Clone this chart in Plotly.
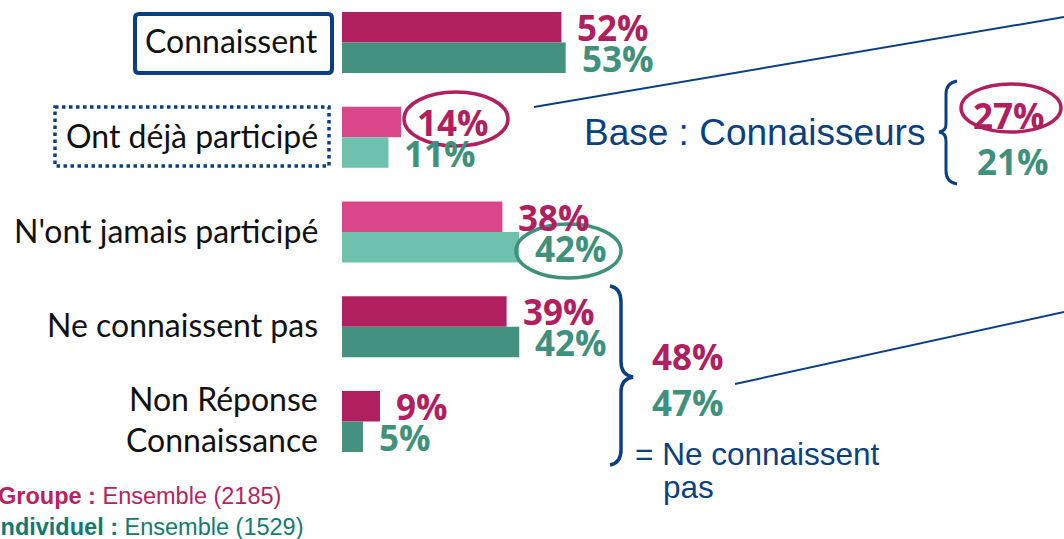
import plotly.graph_objects as go

# ---------------- data ----------------
categories = ["Connaissent", "Ont déjà participé", "N'ont jamais participé",
              "Ne connaissent pas", "Non Réponse Connaissance"]
groupe = [52, 14, 38, 39, 9]
individuel = [53, 11, 42, 42, 5]
groupe_labels = ["52%", "14%", "38%", "39%", "9%"]
individuel_labels = ["53%", "11%", "42%", "42%", "5%"]
base_connaisseurs = ["27%", "21%"]
ne_connaissent_total = ["48%", "47%"]
legend_groupe = ("Groupe :", "Ensemble (2185)")
legend_indiv = ("Individuel :", "Ensemble (1529)")

# ---------------- styles ----------------
W, H = 1064, 539
PINK_D, PINK_L = "#B0205E", "#DB4589"
GREEN_D, GREEN_L = "#42927F", "#6EC1AD"
NAVY = "#0B4080"
TXT_PINK, TXT_GREEN = "#B0205E", "#3F917C"
shade = ["dark", "light", "light", "dark", "dark"]
groupe_colors = [PINK_D if s == "dark" else PINK_L for s in shade]
indiv_colors = [GREEN_D if s == "dark" else GREEN_L for s in shade]

PX_PER_UNIT = 4.22
X0 = 342
ROW0, ROW_STEP = 42.5, 94.75
VAL_SIZE = 35


def px(x):
    return x / W


def py(y):
    return 1 - y / H


def path(points_cmds):
    out = []
    for cmd, pts in points_cmds:
        coords = " ".join(f"{px(x):.5f},{py(y):.5f}" for x, y in pts)
        out.append(f"{cmd} {coords}")
    return " ".join(out)


fig = go.Figure()
fig.add_trace(go.Bar(y=categories, x=groupe, orientation="h", name="Groupe",
                     marker=dict(color=groupe_colors, line=dict(width=0))))
fig.add_trace(go.Bar(y=categories, x=individuel, orientation="h", name="Individuel",
                     marker=dict(color=indiv_colors, line=dict(width=0))))

VAL_FONT = "Open Sans"
ann = []
for c, v, t in zip(categories, groupe, groupe_labels):
    ann.append(dict(x=v, y=c, xref="x", yref="y", text=t, showarrow=False,
                    xanchor="left", yanchor="middle", xshift=14, yshift=15,
                    font=dict(family=VAL_FONT, size=VAL_SIZE, color=TXT_PINK, weight=700)))
for c, v, t in zip(categories, individuel, individuel_labels):
    ann.append(dict(x=v, y=c, xref="x", yref="y", text=t, showarrow=False,
                    xanchor="left", yanchor="middle", xshift=14, yshift=-16,
                    font=dict(family=VAL_FONT, size=VAL_SIZE, color=TXT_GREEN, weight=700)))

# category labels
LAB_FONT = dict(family="Lato", size=32, color="#111111")
for c in categories[:4]:
    ann.append(dict(x=px(320), y=c, xref="paper", yref="y", text=c, showarrow=False,
                    xanchor="right", yanchor="middle", yshift=2, font=LAB_FONT))
ann.append(dict(x=px(320), y=categories[4], xref="paper", yref="y", text="Non Réponse",
                showarrow=False, xanchor="right", yanchor="middle", yshift=23, font=LAB_FONT))
ann.append(dict(x=px(320), y=categories[4], xref="paper", yref="y", text="Connaissance",
                showarrow=False, xanchor="right", yanchor="middle", yshift=-18, font=LAB_FONT))

# Base : Connaisseurs
ann.append(dict(x=px(582), y=py(133), xref="paper", yref="paper", text="Base : Connaisseurs",
                showarrow=False, xanchor="left", yanchor="middle",
                font=dict(family="Liberation Sans", size=37, color=NAVY)))
ann.append(dict(x=px(1009), y=py(116), xref="paper", yref="paper", text=base_connaisseurs[0],
                showarrow=False, xanchor="center", yanchor="middle",
                font=dict(family=VAL_FONT, size=VAL_SIZE, color=TXT_PINK, weight=700)))
ann.append(dict(x=px(1013), y=py(161), xref="paper", yref="paper", text=base_connaisseurs[1],
                showarrow=False, xanchor="center", yanchor="middle",
                font=dict(family=VAL_FONT, size=VAL_SIZE, color=TXT_GREEN, weight=700)))

# Ne connaissent pas total
ann.append(dict(x=px(650), y=py(356), xref="paper", yref="paper", text=ne_connaissent_total[0],
                showarrow=False, xanchor="left", yanchor="middle",
                font=dict(family=VAL_FONT, size=VAL_SIZE, color=TXT_PINK, weight=700)))
ann.append(dict(x=px(650), y=py(402), xref="paper", yref="paper", text=ne_connaissent_total[1],
                showarrow=False, xanchor="left", yanchor="middle",
                font=dict(family=VAL_FONT, size=VAL_SIZE, color=TXT_GREEN, weight=700)))
ann.append(dict(x=px(633), y=py(454), xref="paper", yref="paper", text="= Ne connaissent",
                showarrow=False, xanchor="left", yanchor="middle",
                font=dict(family="Liberation Sans", size=31.5, color=NAVY)))
ann.append(dict(x=px(661), y=py(487), xref="paper", yref="paper", text="pas",
                showarrow=False, xanchor="left", yanchor="middle",
                font=dict(family="Liberation Sans", size=31.5, color=NAVY)))

# legend texts
ann.append(dict(x=px(-4), y=py(496), xref="paper", yref="paper",
                text=f"<b>{legend_groupe[0]}</b> {legend_groupe[1]}",
                showarrow=False, xanchor="left", yanchor="middle",
                font=dict(family="Liberation Sans", size=23.5, color="#B5245F")))
ann.append(dict(x=px(-8), y=py(527), xref="paper", yref="paper",
                text=f"<b>{legend_indiv[0]}</b> {legend_indiv[1]}",
                showarrow=False, xanchor="left", yanchor="middle",
                font=dict(family="Liberation Sans", size=23.5, color="#127A6E")))

shapes = []
# box around Connaissent (rounded corners)
r = 4
bx0, bx1, by0, by1 = 135, 332, 14, 73
shapes.append(dict(type="path", xref="paper", yref="paper", line=dict(color=NAVY, width=4),
                   path=path([("M", [(bx0 + r, by0)]), ("L", [(bx1 - r, by0)]),
                              ("Q", [(bx1, by0), (bx1, by0 + r)]), ("L", [(bx1, by1 - r)]),
                              ("Q", [(bx1, by1), (bx1 - r, by1)]), ("L", [(bx0 + r, by1)]),
                              ("Q", [(bx0, by1), (bx0, by1 - r)]), ("L", [(bx0, by0 + r)]),
                              ("Q", [(bx0, by0), (bx0 + r, by0)])]) + " Z"))
# dotted box
shapes.append(dict(type="rect", xref="paper", yref="paper", x0=px(55), x1=px(329),
                   y0=py(107), y1=py(166), line=dict(color=NAVY, width=3.5, dash="dot")))
# ellipses
shapes.append(dict(type="circle", xref="paper", yref="paper", x0=px(404), x1=px(508),
                   y0=py(92), y1=py(146), line=dict(color=TXT_PINK, width=3.5)))
shapes.append(dict(type="circle", xref="paper", yref="paper", x0=px(961), x1=px(1061),
                   y0=py(84), y1=py(132), line=dict(color=TXT_PINK, width=3.5)))
shapes.append(dict(type="circle", xref="paper", yref="paper", x0=px(516), x1=px(621),
                   y0=py(224), y1=py(278), line=dict(color=TXT_GREEN, width=3.5)))
# connector lines
shapes.append(dict(type="line", xref="paper", yref="paper", x0=px(534), y0=py(107),
                   x1=px(1064), y1=py(17), line=dict(color=NAVY, width=2)))
shapes.append(dict(type="line", xref="paper", yref="paper", x0=px(735), y0=py(384),
                   x1=px(1064), y1=py(312), line=dict(color=NAVY, width=2)))
# right brace
shapes.append(dict(type="path", xref="paper", yref="paper", line=dict(color=NAVY, width=3.5),
                   path=path([("M", [(610, 286)]), ("Q", [(621, 288), (621, 302)]),
                              ("L", [(621, 362)]), ("Q", [(621, 375), (633, 377)]),
                              ("Q", [(621, 379), (621, 392)]), ("L", [(621, 450)]),
                              ("Q", [(621, 463), (610, 465)])])))
# left brace
shapes.append(dict(type="path", xref="paper", yref="paper", line=dict(color=NAVY, width=3),
                   path=path([("M", [(957, 81)]), ("Q", [(946, 83), (946, 94)]),
                              ("L", [(946, 124)]), ("Q", [(946, 131), (939, 132)]),
                              ("Q", [(946, 133), (946, 141)]), ("L", [(946, 171)]),
                              ("Q", [(946, 182), (957, 184)])])))

fig.update_layout(
    width=W, height=H, margin=dict(l=0, r=0, t=0, b=0),
    paper_bgcolor="white", plot_bgcolor="white",
    barmode="group", bargap=0.356, bargroupgap=0, showlegend=False,
    xaxis=dict(range=[-X0 / PX_PER_UNIT, (W - X0) / PX_PER_UNIT], visible=False, domain=[0, 1]),
    yaxis=dict(type="category", categoryorder="array", categoryarray=categories,
               range=[-ROW0 / ROW_STEP + H / ROW_STEP, -ROW0 / ROW_STEP], visible=False),
    annotations=ann, shapes=shapes,
)

fig.write_html("out.html")
